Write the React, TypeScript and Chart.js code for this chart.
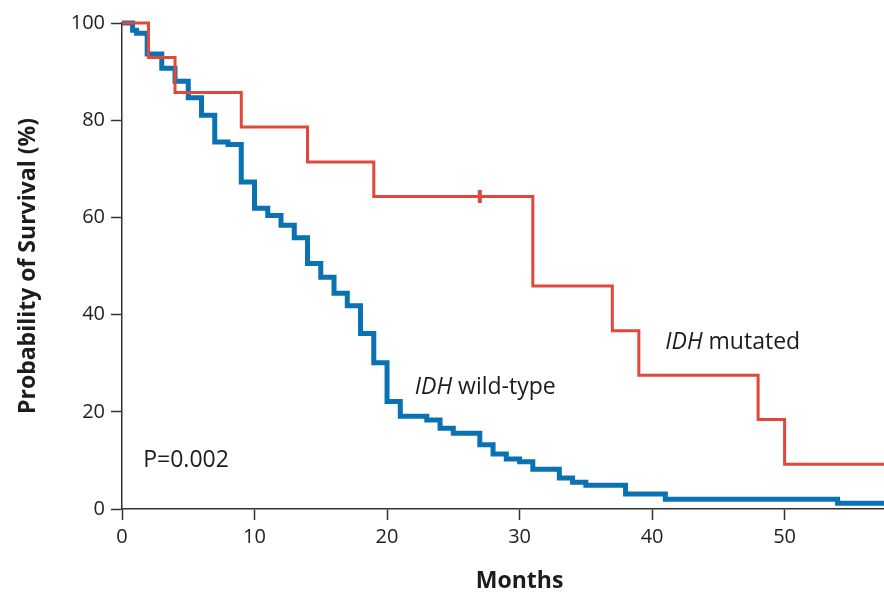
import React, { useEffect, useRef } from "react";
import { Chart, registerables } from "chart.js";

Chart.register(...registerables);

// IDH mutated (Kaplan–Meier steps)
const mutatedMonths = [0, 2, 4, 9, 14, 19, 31, 37, 39, 48, 50, 57.5];
const mutatedSurvival = [100, 92.9, 85.7, 78.6, 71.4, 64.3, 45.9, 36.7, 27.5, 18.4, 9.2, 9.2];
const mutatedCensorMonths = [27];
const mutatedCensorSurvival = [64.3];

// IDH wild-type (Kaplan–Meier steps)
const wildMonths = [0, 0.8, 1.1, 1.9, 3, 4, 5, 6, 7, 8, 9, 10, 11, 12, 13, 14, 15, 16, 17, 18, 19, 20, 21, 23, 24, 25, 27, 28, 29, 30, 31, 33, 34, 35, 38, 41, 54, 57.5];
const wildSurvival = [100, 98.5, 97.9, 93.6, 90.7, 88, 84.6, 81, 75.5, 75, 67.3, 61.9, 60.4, 58.4, 55.8, 50.5, 47.7, 44.4, 41.8, 36.1, 30.1, 22.1, 19.1, 18.3, 16.6, 15.6, 13.2, 11.3, 10.3, 9.7, 8.2, 6.4, 5.5, 4.9, 3.1, 2.0, 1.2, 1.2];

// Axes
const xTickValues = [0, 10, 20, 30, 40, 50];
const yTickValues = [0, 20, 40, 60, 80, 100];
const xTitle = "Months";
const yTitle = "Probability of Survival (%)";

// In-plot annotations
const noteItalic = ["IDH", "IDH", ""];
const notePlain = [" wild-type", " mutated", "P=0.002"];
const noteMonths = [22.1, 41.0, 1.6];
const noteSurvival = [25.1, 34.2, 9.9];

const RED = "#e1473a";
const BLUE = "#0a71b3";
const FONT = '"Open Sans", "Noto Sans", sans-serif';

export default function App() {
  const ref = useRef<HTMLCanvasElement>(null);

  useEffect(() => {
    const canvas = ref.current;
    if (!canvas) return;
    const toXY = (xs: number[], ys: number[]) => xs.map((x, i) => ({ x, y: ys[i] }));

    const annotations = {
      id: "annotations",
      afterDraw(chart: any) {
        const { ctx } = chart;
        const xs = chart.scales.x;
        const ys = chart.scales.y;
        ctx.save();
        ctx.fillStyle = "#1c1c1c";
        ctx.textBaseline = "middle";
        ctx.textAlign = "left";
        for (let i = 0; i < notePlain.length; i++) {
          let px = xs.getPixelForValue(noteMonths[i]);
          const py = ys.getPixelForValue(noteSurvival[i]);
          if (noteItalic[i]) {
            ctx.font = `italic 23px ${FONT}`;
            ctx.fillText(noteItalic[i], px, py);
            px += ctx.measureText(noteItalic[i]).width;
          }
          ctx.font = `23px ${FONT}`;
          ctx.fillText(notePlain[i], px, py);
        }
        ctx.font = `bold 23px ${FONT}`;
        ctx.textAlign = "center";
        ctx.fillText(xTitle, xs.getPixelForValue(30), 581);
        ctx.translate(28, (ys.top + ys.bottom) / 2);
        ctx.rotate(-Math.PI / 2);
        ctx.fillText(yTitle, 0, 0);
        ctx.restore();
      },
    };

    const axisCommon = {
      grid: {
        drawOnChartArea: false,
        drawTicks: true,
        tickLength: 11,
        tickColor: "#333",
        tickWidth: 1.5,
      },
      border: { display: true, color: "#333", width: 1.5 },
    };

    const chart = new Chart(canvas, {
      type: "line",
      data: {
        datasets: [
          {
            label: "IDH mutated",
            data: toXY(mutatedMonths, mutatedSurvival),
            borderColor: RED,
            borderWidth: 3,
            stepped: "before",
            pointRadius: 0,
            pointHoverRadius: 0,
            fill: false,
            clip: false,
            borderJoinStyle: "miter",
          } as any,
          {
            type: "scatter",
            label: "censored",
            data: toXY(mutatedCensorMonths, mutatedCensorSurvival),
            pointStyle: "line",
            rotation: 90,
            pointRadius: 6.5,
            pointHoverRadius: 6.5,
            borderWidth: 4,
            borderColor: RED,
            backgroundColor: RED,
            showLine: false,
            clip: false,
          } as any,
          {
            label: "IDH wild-type",
            data: toXY(wildMonths, wildSurvival),
            borderColor: BLUE,
            borderWidth: 5,
            stepped: "before",
            pointRadius: 0,
            pointHoverRadius: 0,
            fill: false,
            clip: false,
            borderJoinStyle: "miter",
          } as any,
        ],
      },
      options: {
        responsive: false,
        animation: false,
        layout: { autoPadding: false, padding: { top: 23, right: 0, left: 0, bottom: 0 } },
        plugins: {
          legend: { display: false },
          tooltip: { enabled: false },
        },
        scales: {
          x: {
            type: "linear",
            min: 0,
            max: 57.5,
            afterBuildTicks: (s: any) => {
              s.ticks = xTickValues.map((v) => ({ value: v }));
            },
            afterFit: (s: any) => {
              s.height = 84;
              s.paddingRight = 0;
              s.paddingLeft = 0;
            },
            ticks: {
              stepSize: 10,
              padding: 5,
              maxRotation: 0,
              color: "#222",
              font: { family: FONT, size: 20 },
            },
            ...axisCommon,
          },
          y: {
            type: "linear",
            min: 0,
            max: 100,
            afterBuildTicks: (s: any) => {
              s.ticks = yTickValues.map((v) => ({ value: v }));
            },
            afterFit: (s: any) => {
              s.width = 122;
            },
            ticks: {
              stepSize: 20,
              padding: 6,
              color: "#222",
              font: { family: FONT, size: 20 },
            },
            ...axisCommon,
          },
        } as any,
      },
      plugins: [annotations],
    });

    return () => chart.destroy();
  }, []);

  return (
    <div style={{ position: "absolute", left: 0, top: 0, width: 884, height: 593, background: "#fff" }}>
      <canvas ref={ref} width={884} height={593} />
    </div>
  );
}
